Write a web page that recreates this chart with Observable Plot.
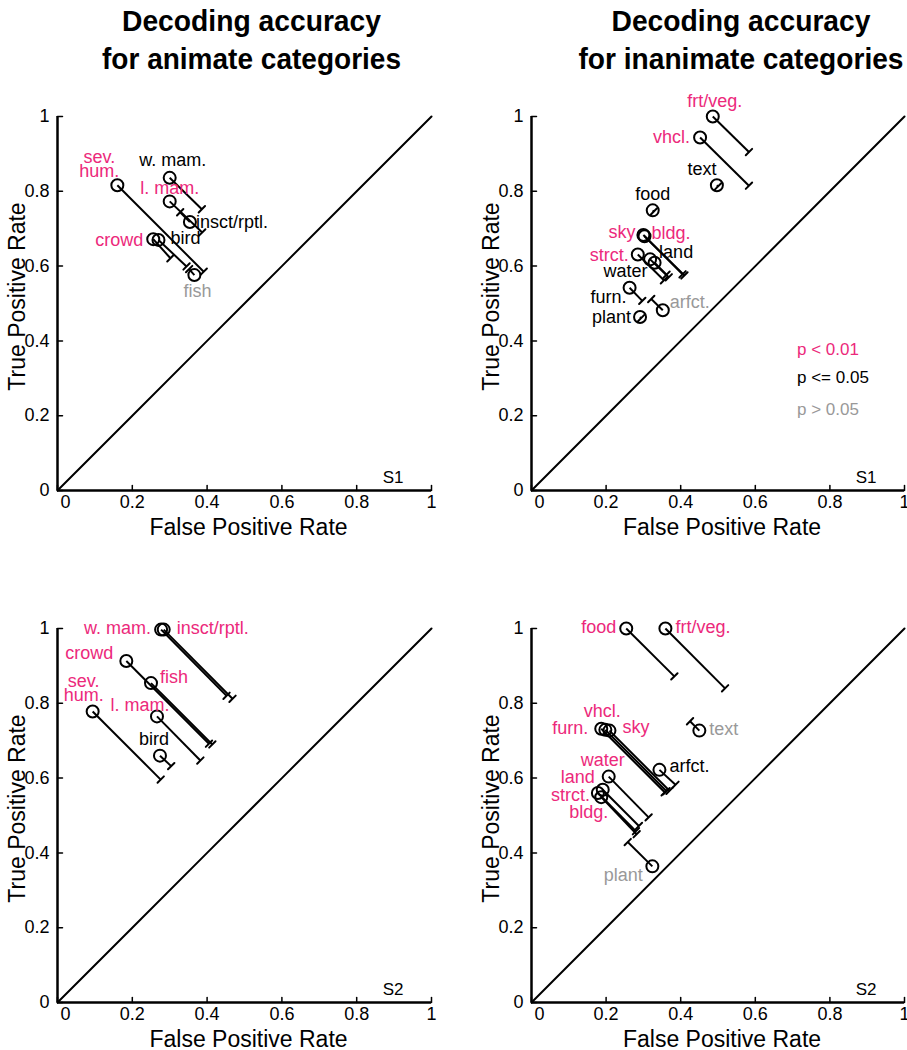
<!DOCTYPE html>
<html><head><meta charset="utf-8">
<script src="https://cdn.jsdelivr.net/npm/d3@7"></script>
<script src="https://cdn.jsdelivr.net/npm/@observablehq/plot@0.6"></script>
<style>
html,body{margin:0;padding:0;background:#fff;}
#root{position:relative;width:907px;height:1050px;overflow:hidden;font-family:"Liberation Sans",Arial,sans-serif;}
.panel{position:absolute;}
.panel svg{overflow:visible;max-width:none !important;}
.legend{position:absolute;left:797px;font-size:17px;line-height:17px;white-space:nowrap;}
#titles{position:absolute;left:0;top:0;}
</style></head><body><div id="root"></div>
<script>
// ---------- data ----------
const tickValues = [0, 0.2, 0.4, 0.6, 0.8, 1];
const titleLeft = ["Decoding accuracy", "for animate categories"];
const titleRight = ["Decoding accuracy", "for inanimate categories"];
const sigLevels = ["p < 0.01", "p <= 0.05", "p > 0.05"];
const sigColors = ["#ec297b", "#000000", "#999999"];
const xLabel = "False Positive Rate";
const yLabel = "True Positive Rate";

// S1, animate
const s1AnimNames  = ["sev. hum.", "w. mam.", "l. mam.", "insct/rptl.", "crowd", "bird", "fish"];
const s1AnimFPR    = [0.160, 0.300, 0.300, 0.354, 0.256, 0.270, 0.366];
const s1AnimTPR    = [0.816, 0.836, 0.773, 0.718, 0.672, 0.670, 0.576];
const s1AnimFPREnd = [0.391, 0.386, 0.387, 0.328, 0.302, 0.345, 0.352];
const s1AnimTPREnd = [0.585, 0.752, 0.690, 0.744, 0.621, 0.599, 0.592];
const s1AnimSig    = [0, 1, 0, 1, 0, 1, 2];

// S1, inanimate
const s1InanNames  = ["frt/veg.", "vhcl.", "text", "food", "sky", "bldg.", "strct.", "land", "water", "furn.", "arfct.", "plant"];
const s1InanFPR    = [0.486, 0.452, 0.497, 0.325, 0.300, 0.303, 0.285, 0.318, 0.330, 0.263, 0.352, 0.291];
const s1InanTPR    = [1.000, 0.944, 0.816, 0.749, 0.683, 0.680, 0.631, 0.618, 0.609, 0.542, 0.482, 0.464];
const s1InanFPREnd = [0.583, 0.583, 0.500, 0.328, 0.410, 0.405, 0.355, 0.368, 0.362, 0.297, 0.321, 0.294];
const s1InanTPREnd = [0.905, 0.815, 0.813, 0.746, 0.575, 0.578, 0.562, 0.570, 0.577, 0.507, 0.512, 0.461];
const s1InanSig    = [0, 0, 1, 1, 0, 0, 0, 1, 1, 1, 2, 1];

// S2, animate
const s2AnimNames  = ["w. mam.", "insct/rptl.", "crowd", "fish", "sev. hum.", "l. mam.", "bird"];
const s2AnimFPR    = [0.277, 0.284, 0.184, 0.250, 0.094, 0.266, 0.274];
const s2AnimTPR    = [0.997, 0.997, 0.913, 0.854, 0.778, 0.765, 0.660];
const s2AnimFPREnd = [0.452, 0.468, 0.405, 0.414, 0.276, 0.382, 0.304];
const s2AnimTPREnd = [0.820, 0.812, 0.692, 0.690, 0.596, 0.647, 0.632];
const s2AnimSig    = [0, 0, 0, 0, 0, 0, 1];

// S2, inanimate
const s2InanNames  = ["food", "frt/veg.", "text", "vhcl.", "furn.", "sky", "arfct.", "water", "land", "strct.", "bldg.", "plant"];
const s2InanFPR    = [0.254, 0.359, 0.450, 0.198, 0.187, 0.209, 0.343, 0.207, 0.191, 0.178, 0.187, 0.324];
const s2InanTPR    = [1.000, 1.000, 0.727, 0.729, 0.732, 0.727, 0.622, 0.604, 0.569, 0.560, 0.549, 0.364];
const s2InanFPREnd = [0.383, 0.519, 0.425, 0.362, 0.357, 0.370, 0.386, 0.314, 0.288, 0.280, 0.282, 0.258];
const s2InanTPREnd = [0.872, 0.840, 0.752, 0.565, 0.562, 0.566, 0.582, 0.495, 0.472, 0.458, 0.450, 0.429];
const s2InanSig    = [0, 0, 2, 0, 0, 0, 1, 0, 0, 0, 0, 2];

// ---------- label placement (anchor, dx, dy in px) ----------
const placeS1Anim = {
  "sev. hum.": ["middle", -18, -20], "w. mam.": ["middle", 3, -16], "l. mam.": ["middle", 0, -12],
  "insct/rptl.": ["start", 6, 1], "crowd": ["end", -10, 2], "bird": ["start", 12, -1], "fish": ["middle", 3, 17]
};
const placeS1Inan = {
  "frt/veg.": ["middle", 2, -14], "vhcl.": ["end", -10, 1], "text": ["middle", -15, -15],
  "food": ["middle", 0, -15], "sky": ["end", -8, -2], "bldg.": ["start", 7, -2],
  "strct.": ["end", -9, 2], "land": ["start", 9, -6], "water": ["end", -7, 10],
  "furn.": ["end", -3, 11], "arfct.": ["start", 7, -7], "plant": ["end", -9, 1]
};
const placeS2Anim = {
  "w. mam.": ["end", -10, 0], "insct/rptl.": ["start", 13, 0], "crowd": ["end", -13, -7],
  "fish": ["start", 9, -5], "sev. hum.": ["middle", -9, -22], "l. mam.": ["middle", -17, -10],
  "bird": ["middle", -6, -15]
};
const placeS2Inan = {
  "food": ["end", -10, 0], "frt/veg.": ["start", 10, 0], "text": ["start", 10, 0],
  "vhcl.": ["middle", -3, -17], "furn.": ["end", -13, 1], "sky": ["start", 13, -2],
  "arfct.": ["start", 10, -2], "water": ["middle", -6, -15], "land": ["end", -8, -11],
  "strct.": ["end", -8, 3], "bldg.": ["end", 7, 16], "plant": ["middle", -29, 10]
};

function rows(names, F, T, FE, TE, S) {
  return names.map((name, i) => ({name, fpr: F[i], tpr: T[i], fprEnd: FE[i], tprEnd: TE[i], sig: S[i]}));
}

const lineShape = {draw(ctx, l) { ctx.moveTo(0, 0); ctx.lineTo(0, -l); }};
const FONT = "'Liberation Sans', Arial, sans-serif";
const fmt = d => `${d}`;

function panel(data, place, sLabel, frameW) {
  const mL = 57, mT = 20, mR = 20, mB = 60, H = 374;
  const marks = [
    Plot.line(tickValues, {x: d => d, y: d => d, stroke: "black", strokeWidth: 2}),
    Plot.ruleX([0], {stroke: "black", strokeWidth: 2.5}),
    Plot.ruleY([0], {stroke: "black", strokeWidth: 2.5}),
    Plot.vector(tickValues, {x: d => d, frameAnchor: "bottom", length: 5, rotate: 0, anchor: "start", shape: lineShape, stroke: "black", strokeWidth: 1.5}),
    Plot.vector(tickValues, {y: d => d, frameAnchor: "left", length: 5, rotate: 90, anchor: "start", shape: lineShape, stroke: "black", strokeWidth: 1.5}),
    Plot.axisX(tickValues.slice(1), {tickSize: 0, tickPadding: 5, label: null, fontSize: 18, tickFormat: fmt}),
    Plot.axisX(tickValues.slice(0, 1), {tickSize: 0, tickPadding: 5, dx: 8, label: null, fontSize: 18, tickFormat: fmt}),
    Plot.axisY(tickValues, {tickSize: 0, tickPadding: 8, label: null, fontSize: 18, tickFormat: fmt}),
    Plot.text([xLabel], {text: d => d, frameAnchor: "bottom", dy: 37, dx: 4, fontSize: 23, lineAnchor: "middle", textAnchor: "middle"}),
    Plot.text([yLabel], {text: d => d, frameAnchor: "left", rotate: -90, dx: -40, dy: -7, fontSize: 23, lineAnchor: "middle", textAnchor: "middle"}),
    Plot.text([sLabel], {text: d => d, frameAnchor: "bottom-right", textAnchor: "end", lineAnchor: "middle", dx: -28, dy: -13, fontSize: 17}),
    Plot.link(data, {x1: "fpr", y1: "tpr", x2: "fprEnd", y2: "tprEnd", stroke: "black", strokeWidth: 2}),
    Plot.vector(data, {x: "fprEnd", y: "tprEnd", length: 9, rotate: 45, anchor: "middle", shape: lineShape, stroke: "black", strokeWidth: 2}),
    Plot.dot(data, {x: "fpr", y: "tpr", r: 6, stroke: "black", strokeWidth: 2, fill: "none"}),
    ...data.map(d => {
      const [a, dx, dy] = place[d.name];
      return Plot.text([d], {x: "fpr", y: "tpr", text: e => e.name === "sev. hum." ? "sev.\nhum." : e.name,
        textAnchor: a, dx, dy, fill: sigColors[d.sig], fontSize: 18, lineHeight: 0.8, lineAnchor: "middle"});
    })
  ];
  return Plot.plot({
    width: mL + frameW + mR, height: mT + H + mB,
    marginLeft: mL, marginTop: mT, marginRight: mR, marginBottom: mB,
    x: {domain: [0, 1]}, y: {domain: [0, 1]},
    style: {fontFamily: FONT, fontSize: "18px", color: "black", background: "transparent", overflow: "visible", maxWidth: "none"},
    marks
  });
}

const root = document.getElementById("root");
function place(el, left, top) {
  const div = document.createElement("div");
  div.className = "panel";
  div.style.left = left + "px";
  div.style.top = top + "px";
  div.style.width = el.getAttribute("width") + "px";
  div.appendChild(el);
  root.appendChild(div);
}

place(panel(rows(s1AnimNames, s1AnimFPR, s1AnimTPR, s1AnimFPREnd, s1AnimTPREnd, s1AnimSig), placeS1Anim, "S1", 374), 0, 96);
place(panel(rows(s1InanNames, s1InanFPR, s1InanTPR, s1InanFPREnd, s1InanTPREnd, s1InanSig), placeS1Inan, "S1", 373), 474, 96);
place(panel(rows(s2AnimNames, s2AnimFPR, s2AnimTPR, s2AnimFPREnd, s2AnimTPREnd, s2AnimSig), placeS2Anim, "S2", 374), 0, 608);
place(panel(rows(s2InanNames, s2InanFPR, s2InanTPR, s2InanFPREnd, s2InanTPREnd, s2InanSig), placeS2Inan, "S2", 373), 474, 608);

// titles
const tsvg = d3.select(root).append("svg").attr("id", "titles").attr("width", 907).attr("height", 90);
const titleSpecs = [
  {lines: titleLeft, cx: 251.5, widths: [259, 299]},
  {lines: titleRight, cx: 741, widths: [259, 325]}
];
titleSpecs.forEach(s => {
  s.lines.forEach((t, i) => {
    tsvg.append("text").attr("x", s.cx).attr("y", 31 + i * 38)
      .attr("text-anchor", "middle").attr("font-weight", "bold").attr("font-size", 30)
      .attr("font-family", "'Liberation Sans', Arial, sans-serif")
      .attr("textLength", s.widths[i]).attr("lengthAdjust", "spacingAndGlyphs")
      .text(t);
  });
});

// legend
const legendTops = [341, 369, 401];
sigLevels.forEach((t, i) => {
  const div = document.createElement("div");
  div.className = "legend";
  div.style.top = legendTops[i] + "px";
  div.style.color = sigColors[i];
  div.textContent = t;
  root.appendChild(div);
});
</script>
</body></html>
